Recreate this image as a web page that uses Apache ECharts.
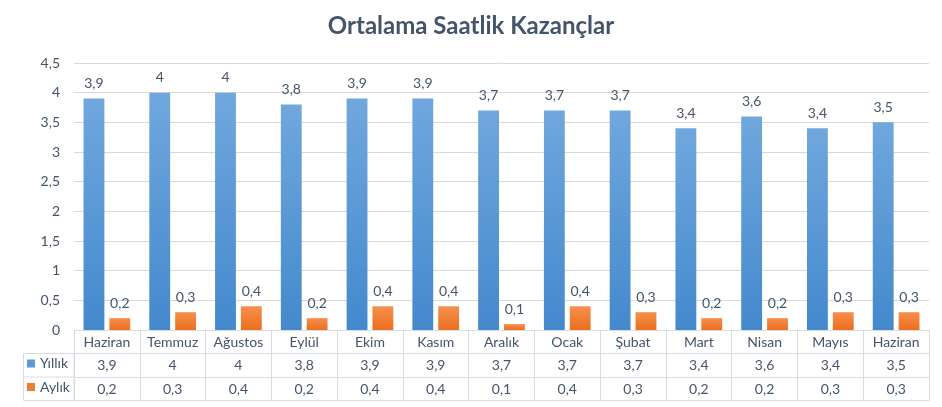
<!DOCTYPE html>
<html>
<head>
<meta charset="utf-8">
<script src="https://cdn.jsdelivr.net/npm/echarts@6/dist/echarts.min.js"></script>
<style>html,body{margin:0;padding:0;background:#fff;}#c{width:942px;height:407px;}</style>
</head>
<body>
<div id="c"></div>
<script>
var categories = ['Haziran','Temmuz','Ağustos','Eylül','Ekim','Kasım','Aralık','Ocak','Şubat','Mart','Nisan','Mayıs','Haziran'];
var yillik = [3.9, 4, 4, 3.8, 3.9, 3.9, 3.7, 3.7, 3.7, 3.4, 3.6, 3.4, 3.5];
var aylik = [0.2, 0.3, 0.4, 0.2, 0.4, 0.4, 0.1, 0.4, 0.3, 0.2, 0.2, 0.3, 0.3];
var seriesNames = ['Yıllık', 'Aylık'];
var titleText = 'Ortalama Saatlik Kazançlar';

var FONT = 'Lato';
var TXT = '#44546a';
var BORDER = '#d9dde3';
var FS = 14;
function fmt(v){ return String(v).replace('.', ','); }

var chart = echarts.init(document.getElementById('c'));
var gridLeft = 74, gridRight = 13, gridTop = 63, gridBottom = 77;
var axisY = 407 - gridBottom;
var rowH = 23.5;

function tableAxis(offset, values) {
  return {
    type: 'category',
    data: categories,
    position: 'bottom',
    offset: offset,
    axisLine: { show: true, lineStyle: { color: BORDER, width: 1 } },
    axisTick: { show: false },
    axisLabel: values ? {
      show: true, interval: 0, margin: 5, color: TXT, fontFamily: FONT, fontSize: FS,
      formatter: function (v, i) { return fmt(values[i]); }
    } : { show: false },
    splitLine: { show: false }
  };
}

function legendFor(i, color) {
  return {
    orient: 'horizontal', left: 27, top: axisY + rowH * (i + 1) + 3,
    itemWidth: 8, itemHeight: 8, itemGap: 0, icon: 'rect', padding: 0,
    textStyle: { color: TXT, fontFamily: FONT, fontSize: FS },
    data: [{ name: seriesNames[i], itemStyle: { color: color } }], selectedMode: false
  };
}

var option = {
  backgroundColor: '#fff',
  textStyle: { fontFamily: FONT },
  color: ['#5b9bd5', '#ed7d31'],
  title: {
    text: titleText, left: 'center', top: 9,
    textStyle: { fontFamily: FONT, fontSize: 24, fontWeight: 'bold', color: TXT }
  },
  legend: [legendFor(0, '#5b9bd5'), legendFor(1, '#ed7d31')],
  grid: { left: gridLeft, right: gridRight, top: gridTop, bottom: gridBottom, containLabel: false },
  xAxis: [
    {
      type: 'category', data: categories, position: 'bottom',
      axisLine: { show: true, lineStyle: { color: BORDER, width: 1 } },
      axisTick: { show: true, interval: 0, alignWithLabel: false, length: rowH * 3, lineStyle: { color: BORDER } },
      axisLabel: { interval: 0, margin: 5, color: TXT, fontFamily: FONT, fontSize: FS }
    },
    tableAxis(rowH, yillik),
    tableAxis(rowH * 2, aylik),
    tableAxis(rowH * 3, null)
  ],
  yAxis: {
    type: 'value', min: 0, max: 4.5, interval: 0.5,
    axisLine: { show: false }, axisTick: { show: false },
    axisLabel: { margin: 14, color: TXT, fontFamily: FONT, fontSize: FS, formatter: function (v) { return fmt(v); } },
    splitLine: { lineStyle: { color: '#d9d9d9', width: 1 } }
  },
  series: [
    {
      name: seriesNames[0], type: 'bar', data: yillik, xAxisIndex: 0,
      barCategoryGap: '29%', barGap: '24%',
      itemStyle: { color: new echarts.graphic.LinearGradient(0, 0, 0, 1, [
        { offset: 0, color: '#70a7dd' }, { offset: 1, color: '#4489cd' }]) },
      label: { show: true, position: 'top', distance: 8, color: TXT, fontFamily: FONT, fontSize: FS,
        formatter: function (p) { return fmt(p.value); } }
    },
    {
      name: seriesNames[1], type: 'bar', data: aylik, xAxisIndex: 0,
      barCategoryGap: '29%', barGap: '24%',
      itemStyle: { color: new echarts.graphic.LinearGradient(0, 0, 0, 1, [
        { offset: 0, color: '#f5904d' }, { offset: 1, color: '#ec6e1e' }]) },
      label: { show: true, position: 'top', distance: 8, color: TXT, fontFamily: FONT, fontSize: FS,
        formatter: function (p) { return fmt(p.value); } }
    }
  ],
  graphic: [
    { type: 'rect', silent: true, shape: { x: 23.5, y: axisY + rowH, width: gridLeft - 23.5, height: rowH * 2 },
      style: { fill: 'none', stroke: BORDER, lineWidth: 1 } },
    { type: 'line', silent: true, shape: { x1: 23.5, y1: axisY + rowH * 2, x2: gridLeft, y2: axisY + rowH * 2 },
      style: { stroke: BORDER, lineWidth: 1 } }
  ]
};
chart.setOption(option);
</script>
</body>
</html>
